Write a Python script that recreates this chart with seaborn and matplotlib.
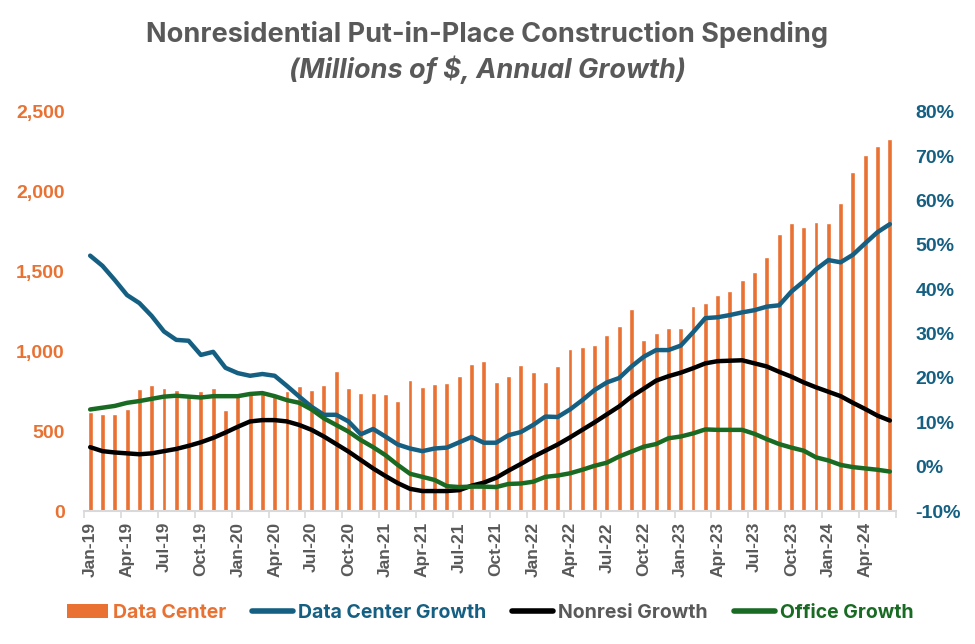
"""
Nonresidential put-in-place construction spending: data center bars
with annual growth lines on a secondary axis.
"""

import matplotlib
matplotlib.use("Agg")

import matplotlib.pyplot as plt
import numpy as np
import pandas as pd
import seaborn as sns
from matplotlib.lines import Line2D
from matplotlib.patches import Patch
from matplotlib.ticker import FuncFormatter

# ── Data ──────────────────────────────────────────────────────────────
months = pd.date_range("2019-01-01", periods=66, freq="MS").strftime("%b-%y").tolist()

data_center = [
    622, 608, 608, 639, 764, 789, 771, 758, 725, 752, 771, 633,
    739, 735, 741, 733, 752, 783, 758, 789, 877, 771, 739, 739,
    733, 689, 821, 777, 796, 802, 846, 921, 941, 809, 847, 915,
    872, 809, 908, 1015, 1029, 1040, 1105, 1160, 1266, 1071, 1116, 1148,
    1148, 1284, 1303, 1353, 1379, 1447, 1499, 1593, 1737, 1805, 1780, 1811,
    1805, 1931, 2124, 2231, 2287, 2331,
]

dc_growth = [
    47.6, 45.3, 42.1, 38.7, 36.9, 34.0, 30.5, 28.6, 28.4, 25.2, 25.9, 22.3,
    21.1, 20.5, 20.9, 20.5, 18.2, 15.8, 13.5, 11.7, 11.7, 10.2, 7.3, 8.5,
    6.8, 5.0, 4.1, 3.5, 4.1, 4.3, 5.5, 6.7, 5.4, 5.4, 7.1, 7.8,
    9.4, 11.3, 11.2, 12.9, 15.0, 17.3, 19.0, 20.0, 22.6, 24.8, 26.3, 26.3,
    27.3, 30.3, 33.5, 33.7, 34.2, 34.8, 35.3, 36.1, 36.4, 39.5, 41.8, 44.5,
    46.6, 46.1, 47.8, 50.4, 52.9, 54.7,
]

nonresi_growth = [
    4.4, 3.5, 3.2, 3.0, 2.8, 3.0, 3.5, 4.0, 4.7, 5.5, 6.5, 7.7,
    9.0, 10.2, 10.5, 10.5, 10.2, 9.4, 8.3, 6.8, 5.1, 3.4, 1.5, -0.4,
    -2.1, -3.7, -5.0, -5.5, -5.5, -5.5, -5.3, -4.3, -3.6, -2.5, -0.9, 0.6,
    2.2, 3.6, 5.0, 6.6, 8.3, 10.0, 11.8, 13.6, 15.8, 17.6, 19.4, 20.4,
    21.2, 22.2, 23.3, 23.8, 23.9, 24.0, 23.3, 22.6, 21.4, 20.3, 19.0, 17.9,
    16.9, 15.9, 14.4, 13.0, 11.5, 10.4,
]

office_growth = [
    12.9, 13.3, 13.7, 14.4, 14.8, 15.3, 15.8, 16.0, 15.8, 15.6, 15.9, 15.9,
    15.9, 16.4, 16.6, 15.9, 15.0, 14.4, 12.9, 10.9, 9.4, 7.9, 6.0, 4.4,
    2.6, 0.4, -1.6, -2.3, -3.0, -4.4, -4.6, -4.5, -4.5, -4.6, -3.9, -3.8,
    -3.4, -2.3, -2.0, -1.5, -0.7, 0.2, 0.9, 2.3, 3.4, 4.5, 5.1, 6.4,
    6.8, 7.5, 8.4, 8.3, 8.3, 8.3, 7.4, 6.2, 5.1, 4.3, 3.6, 2.1,
    1.4, 0.4, -0.1, -0.4, -0.7, -1.1,
]

ORANGE = "#E97132"
BLUE = "#156082"
BLACK = "#000000"
GREEN = "#196B24"
GREY = "#595959"

df = pd.DataFrame({
    "month": months,
    "data_center": data_center,
    "dc_growth": dc_growth,
    "nonresi_growth": nonresi_growth,
    "office_growth": office_growth,
})
df["pos"] = np.arange(len(df))

sns.set_theme(style="white")
plt.rcParams["font.family"] = ["Liberation Sans", "DejaVu Sans"]

# ── Figure ────────────────────────────────────────────────────────────
fig = plt.figure(figsize=(9.75, 6.44), dpi=100)
ax = fig.add_axes([84 / 975, 1 - 511 / 644, 812 / 975, 399 / 644])

sns.barplot(data=df, x="pos", y="data_center", color=ORANGE, saturation=1,
            width=0.4, native_scale=True, ax=ax)

ax2 = ax.twinx()
for col, c in [("dc_growth", BLUE), ("nonresi_growth", BLACK), ("office_growth", GREEN)]:
    sns.lineplot(data=df, x="pos", y=col, color=c, linewidth=3.2, ax=ax2,
                 legend=False, solid_capstyle="round")

# x axis
ax.set_xlim(-0.5, len(df) - 0.5)
ax.set_xticks(df["pos"][::3])
ax.set_xticklabels(df["month"][::3], rotation=90, fontsize=12.5,
                   fontweight="bold", color=GREY)
ax.set_xticks(np.arange(-0.5, len(df), 3), minor=True)
ax.tick_params(axis="x", which="major", length=0, pad=8)
ax.tick_params(axis="x", which="minor", length=5, width=1.2, color="#D9D9D9",
               bottom=True)
ax.set_xlabel("")

# left axis
ax.set_ylim(0, 2500)
ax.set_yticks(range(0, 2501, 500))
ax.yaxis.set_major_formatter(FuncFormatter(lambda v, _: f"{v:,.0f}"))
ax.tick_params(axis="y", length=0, pad=14, labelsize=14, labelcolor=ORANGE)
for t in ax.get_yticklabels():
    t.set_fontweight("bold")
ax.set_ylabel("")

# right axis
ax2.set_ylim(-10, 80)
ax2.set_yticks(range(-10, 81, 10))
ax2.yaxis.set_major_formatter(FuncFormatter(lambda v, _: f"{v:.0f}%"))
ax2.tick_params(axis="y", length=0, pad=14, labelsize=14, labelcolor=BLUE)
for t in ax2.get_yticklabels():
    t.set_fontweight("bold")
ax2.set_ylabel("")
ax2.grid(False)
ax.grid(False)

for s in ["top", "left", "right"]:
    ax.spines[s].set_visible(False)
for s in ax2.spines.values():
    s.set_visible(False)
ax.spines["bottom"].set_color("#D9D9D9")
ax.spines["bottom"].set_linewidth(1.5)

# ── Titles ────────────────────────────────────────────────────────────
fig.text(0.5, 1 - 35 / 644, "Nonresidential Put-in-Place Construction Spending",
         ha="center", va="center", fontsize=19.5, fontweight="bold", color=GREY,
         family=["Inter", "DejaVu Sans"])
fig.text(0.5, 1 - 70 / 644, "(Millions of $, Annual Growth)",
         ha="center", va="center", fontsize=19.5, fontweight="bold",
         fontstyle="italic", color=GREY, family=["Inter", "DejaVu Sans"])

# ── Legend ────────────────────────────────────────────────────────────
handles = [
    Patch(facecolor=ORANGE, edgecolor="none"),
    Line2D([], [], color=BLUE, linewidth=4),
    Line2D([], [], color=BLACK, linewidth=4),
    Line2D([], [], color=GREEN, linewidth=4),
]
labels = ["Data Center", "Data Center Growth", "Nonresi Growth", "Office Growth"]
leg = fig.legend(handles, labels, loc="center", bbox_to_anchor=(490 / 975, 1 - 613 / 644),
                 ncol=4, frameon=False, handlelength=2.1, handletextpad=0.25,
                 columnspacing=1.35,
                 prop={"family": ["Inter", "DejaVu Sans"], "weight": "bold", "size": 14})
for t, c in zip(leg.get_texts(), [ORANGE, BLUE, GREY, GREEN]):
    t.set_color(c)

fig.savefig("out.png", dpi=100)
